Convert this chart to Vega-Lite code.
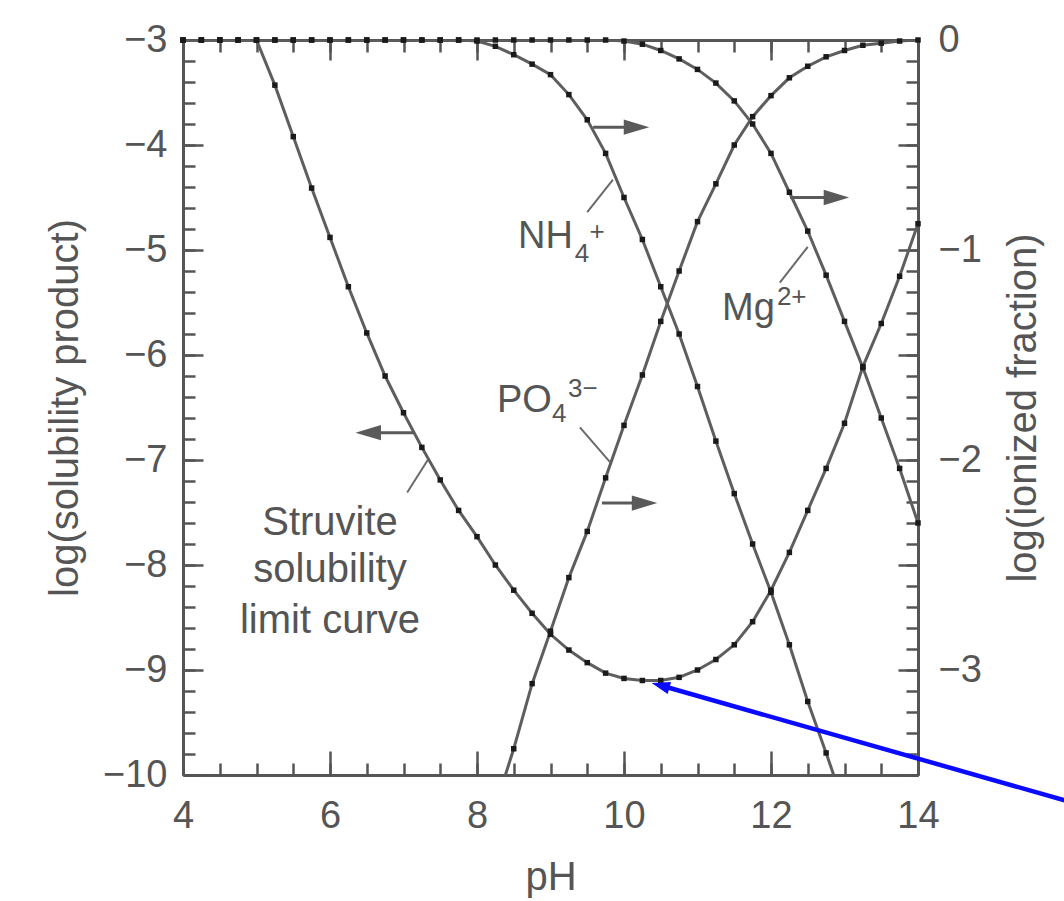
{
  "$schema": "https://vega.github.io/schema/vega-lite/v6.json",
  "width": 735,
  "height": 735,
  "autosize": {"type": "none"},
  "padding": {"left": 183, "top": 40, "right": 146, "bottom": 126},
  "background": "white",
  "config": {
    "font": "Liberation Sans",
    "view": {"stroke": null},
    "axis": {
      "labelFont": "Liberation Sans", "labelFontSize": 38, "labelColor": "#555555",
      "titleFont": "Liberation Sans", "titleFontSize": 40, "titleFontWeight": "normal", "titleColor": "#555555",
      "domainColor": "#555555", "domainWidth": 3, "tickColor": "#555555", "tickWidth": 2.5,
      "grid": false, "labelFlush": false, "labelOverlap": false
    }
  },
  "datasets": {
    "curves": [
      {"pH": 4, "v": -3, "s": "struvite"}, {"pH": 4.25, "v": -3, "s": "struvite"}, {"pH": 4.5, "v": -3, "s": "struvite"}, {"pH": 4.75, "v": -3, "s": "struvite"},
      {"pH": 5, "v": -3.0, "s": "struvite"}, {"pH": 5.25, "v": -3.43, "s": "struvite"}, {"pH": 5.5, "v": -3.92, "s": "struvite"}, {"pH": 5.75, "v": -4.41, "s": "struvite"},
      {"pH": 6, "v": -4.88, "s": "struvite"}, {"pH": 6.25, "v": -5.35, "s": "struvite"}, {"pH": 6.5, "v": -5.79, "s": "struvite"}, {"pH": 6.75, "v": -6.2, "s": "struvite"},
      {"pH": 7, "v": -6.55, "s": "struvite"}, {"pH": 7.25, "v": -6.88, "s": "struvite"}, {"pH": 7.5, "v": -7.19, "s": "struvite"}, {"pH": 7.75, "v": -7.48, "s": "struvite"},
      {"pH": 8, "v": -7.73, "s": "struvite"}, {"pH": 8.25, "v": -8.0, "s": "struvite"}, {"pH": 8.5, "v": -8.24, "s": "struvite"}, {"pH": 8.75, "v": -8.46, "s": "struvite"},
      {"pH": 9, "v": -8.66, "s": "struvite"}, {"pH": 9.25, "v": -8.81, "s": "struvite"}, {"pH": 9.5, "v": -8.93, "s": "struvite"}, {"pH": 9.75, "v": -9.03, "s": "struvite"},
      {"pH": 10, "v": -9.08, "s": "struvite"}, {"pH": 10.25, "v": -9.1, "s": "struvite"}, {"pH": 10.5, "v": -9.1, "s": "struvite"}, {"pH": 10.75, "v": -9.07, "s": "struvite"},
      {"pH": 11, "v": -9.0, "s": "struvite"}, {"pH": 11.25, "v": -8.9, "s": "struvite"}, {"pH": 11.5, "v": -8.76, "s": "struvite"}, {"pH": 11.75, "v": -8.54, "s": "struvite"},
      {"pH": 12, "v": -8.24, "s": "struvite"}, {"pH": 12.25, "v": -7.88, "s": "struvite"}, {"pH": 12.5, "v": -7.48, "s": "struvite"}, {"pH": 12.75, "v": -7.08, "s": "struvite"},
      {"pH": 13, "v": -6.65, "s": "struvite"}, {"pH": 13.25, "v": -6.11, "s": "struvite"}, {"pH": 13.5, "v": -5.7, "s": "struvite"}, {"pH": 13.75, "v": -5.25, "s": "struvite"},
      {"pH": 14, "v": -4.75, "s": "struvite"},

      {"pH": 4, "v": -3, "s": "NH4"}, {"pH": 4.25, "v": -3, "s": "NH4"}, {"pH": 4.5, "v": -3, "s": "NH4"}, {"pH": 4.75, "v": -3, "s": "NH4"},
      {"pH": 5, "v": -3, "s": "NH4"}, {"pH": 5.25, "v": -3, "s": "NH4"}, {"pH": 5.5, "v": -3, "s": "NH4"}, {"pH": 5.75, "v": -3, "s": "NH4"},
      {"pH": 6, "v": -3, "s": "NH4"}, {"pH": 6.25, "v": -3, "s": "NH4"}, {"pH": 6.5, "v": -3, "s": "NH4"}, {"pH": 6.75, "v": -3, "s": "NH4"},
      {"pH": 7, "v": -3, "s": "NH4"}, {"pH": 7.25, "v": -3, "s": "NH4"}, {"pH": 7.5, "v": -3, "s": "NH4"}, {"pH": 7.75, "v": -3, "s": "NH4"},
      {"pH": 8, "v": -3.01, "s": "NH4"}, {"pH": 8.25, "v": -3.06, "s": "NH4"}, {"pH": 8.5, "v": -3.14, "s": "NH4"}, {"pH": 8.75, "v": -3.23, "s": "NH4"},
      {"pH": 9, "v": -3.33, "s": "NH4"}, {"pH": 9.25, "v": -3.52, "s": "NH4"}, {"pH": 9.5, "v": -3.76, "s": "NH4"}, {"pH": 9.75, "v": -4.08, "s": "NH4"},
      {"pH": 10, "v": -4.5, "s": "NH4"}, {"pH": 10.25, "v": -4.9, "s": "NH4"}, {"pH": 10.5, "v": -5.35, "s": "NH4"}, {"pH": 10.75, "v": -5.8, "s": "NH4"},
      {"pH": 11, "v": -6.3, "s": "NH4"}, {"pH": 11.25, "v": -6.82, "s": "NH4"}, {"pH": 11.5, "v": -7.32, "s": "NH4"}, {"pH": 11.75, "v": -7.8, "s": "NH4"},
      {"pH": 12, "v": -8.26, "s": "NH4"}, {"pH": 12.25, "v": -8.76, "s": "NH4"}, {"pH": 12.5, "v": -9.3, "s": "NH4"}, {"pH": 12.75, "v": -9.79, "s": "NH4"},
      {"pH": 13, "v": -10.3, "s": "NH4"},

      {"pH": 4, "v": -3, "s": "Mg"}, {"pH": 4.25, "v": -3, "s": "Mg"}, {"pH": 4.5, "v": -3, "s": "Mg"}, {"pH": 4.75, "v": -3, "s": "Mg"},
      {"pH": 5, "v": -3, "s": "Mg"}, {"pH": 5.25, "v": -3, "s": "Mg"}, {"pH": 5.5, "v": -3, "s": "Mg"}, {"pH": 5.75, "v": -3, "s": "Mg"},
      {"pH": 6, "v": -3, "s": "Mg"}, {"pH": 6.25, "v": -3, "s": "Mg"}, {"pH": 6.5, "v": -3, "s": "Mg"}, {"pH": 6.75, "v": -3, "s": "Mg"},
      {"pH": 7, "v": -3, "s": "Mg"}, {"pH": 7.25, "v": -3, "s": "Mg"}, {"pH": 7.5, "v": -3, "s": "Mg"}, {"pH": 7.75, "v": -3, "s": "Mg"},
      {"pH": 8, "v": -3, "s": "Mg"}, {"pH": 8.25, "v": -3, "s": "Mg"}, {"pH": 8.5, "v": -3, "s": "Mg"}, {"pH": 8.75, "v": -3, "s": "Mg"},
      {"pH": 9, "v": -3, "s": "Mg"}, {"pH": 9.25, "v": -3, "s": "Mg"}, {"pH": 9.5, "v": -3, "s": "Mg"}, {"pH": 9.75, "v": -3, "s": "Mg"},
      {"pH": 10, "v": -3.01, "s": "Mg"}, {"pH": 10.25, "v": -3.04, "s": "Mg"}, {"pH": 10.5, "v": -3.1, "s": "Mg"}, {"pH": 10.75, "v": -3.18, "s": "Mg"},
      {"pH": 11, "v": -3.28, "s": "Mg"}, {"pH": 11.25, "v": -3.41, "s": "Mg"}, {"pH": 11.5, "v": -3.58, "s": "Mg"}, {"pH": 11.75, "v": -3.8, "s": "Mg"},
      {"pH": 12, "v": -4.08, "s": "Mg"}, {"pH": 12.25, "v": -4.45, "s": "Mg"}, {"pH": 12.5, "v": -4.82, "s": "Mg"}, {"pH": 12.75, "v": -5.24, "s": "Mg"},
      {"pH": 13, "v": -5.68, "s": "Mg"}, {"pH": 13.25, "v": -6.12, "s": "Mg"}, {"pH": 13.5, "v": -6.6, "s": "Mg"}, {"pH": 13.75, "v": -7.08, "s": "Mg"},
      {"pH": 14, "v": -7.6, "s": "Mg"},

      {"pH": 8.25, "v": -10.3, "s": "PO4"}, {"pH": 8.5, "v": -9.75, "s": "PO4"}, {"pH": 8.75, "v": -9.13, "s": "PO4"}, {"pH": 9, "v": -8.63, "s": "PO4"},
      {"pH": 9.25, "v": -8.12, "s": "PO4"}, {"pH": 9.5, "v": -7.68, "s": "PO4"}, {"pH": 9.75, "v": -7.17, "s": "PO4"}, {"pH": 10, "v": -6.67, "s": "PO4"},
      {"pH": 10.25, "v": -6.19, "s": "PO4"}, {"pH": 10.5, "v": -5.68, "s": "PO4"}, {"pH": 10.75, "v": -5.2, "s": "PO4"}, {"pH": 11, "v": -4.73, "s": "PO4"},
      {"pH": 11.25, "v": -4.37, "s": "PO4"}, {"pH": 11.5, "v": -4.0, "s": "PO4"}, {"pH": 11.75, "v": -3.73, "s": "PO4"}, {"pH": 12, "v": -3.53, "s": "PO4"},
      {"pH": 12.25, "v": -3.36, "s": "PO4"}, {"pH": 12.5, "v": -3.25, "s": "PO4"}, {"pH": 12.75, "v": -3.16, "s": "PO4"}, {"pH": 13, "v": -3.1, "s": "PO4"},
      {"pH": 13.25, "v": -3.05, "s": "PO4"}, {"pH": 13.5, "v": -3.03, "s": "PO4"}, {"pH": 13.75, "v": -3.01, "s": "PO4"}, {"pH": 14, "v": -3.0, "s": "PO4"}
    ],
    "leaders": [
      {"x1": 7.05, "y1": -7.31, "x2": 7.33, "y2": -7.0},
      {"x1": 9.5, "y1": -4.64, "x2": 9.85, "y2": -4.33},
      {"x1": 12.12, "y1": -5.31, "x2": 12.5, "y2": -4.97},
      {"x1": 9.4, "y1": -6.69, "x2": 9.81, "y2": -7.02}
    ],
    "arrows": [
      {"tail": 7.13, "hx": 6.52, "y": -6.74, "dir": "left"},
      {"tail": 9.58, "hx": 10.17, "y": -3.83, "dir": "right"},
      {"tail": 12.26, "hx": 12.89, "y": -4.5, "dir": "right"},
      {"tail": 9.7, "hx": 10.28, "y": -7.41, "dir": "right"}
    ],
    "ions": [
      {"x": 8.558, "y": -4.981, "t": "NH", "k": "main"},
      {"x": 9.33, "y": -5.114, "t": "4", "k": "small"},
      {"x": 9.53, "y": -4.905, "t": "+", "k": "small"},
      {"x": 11.333, "y": -5.667, "t": "Mg", "k": "main"},
      {"x": 12.08, "y": -5.524, "t": "2+", "k": "small"},
      {"x": 8.272, "y": -6.543, "t": "PO", "k": "main"},
      {"x": 9.02, "y": -6.638, "t": "4", "k": "small"},
      {"x": 9.238, "y": -6.4, "t": "3−", "k": "small"}
    ],
    "struvite": [
      {"x": 6.0, "y": -7.714, "t": "Struvite"},
      {"x": 6.0, "y": -8.162, "t": "solubility"},
      {"x": 6.0, "y": -8.648, "t": "limit curve"}
    ],
    "pointer": [{"x1": 10.54, "y1": -9.155, "x2": 16.2, "y2": -10.282}],
    "pointerHead": [{"x": 10.51, "y": -9.15}]
  },
  "resolve": {"axis": {"x": "independent", "y": "independent"}},
  "layer": [
    {
      "data": {"name": "curves"},
      "mark": {"type": "line", "color": "#5e5e5e", "strokeWidth": 3, "clip": true},
      "encoding": {
        "x": {"field": "pH", "type": "quantitative", "scale": {"domain": [4, 14], "nice": false, "zero": false},
              "axis": {"orient": "bottom", "values": [4, 6, 8, 10, 12, 14], "format": "d", "tickSize": -24, "labelPadding": 46, "title": "pH", "titlePadding": 22}},
        "y": {"field": "v", "type": "quantitative", "scale": {"domain": [-10, -3], "nice": false, "zero": false},
              "axis": {"orient": "left", "values": [-3, -4, -5, -6, -7, -8, -9, -10], "format": "d", "tickSize": -20, "labelPadding": 36, "title": "log(solubility product)", "titlePadding": 17}},
        "detail": {"field": "s"}
      }
    },
    {
      "data": {"name": "curves"},
      "transform": [{"filter": "datum.v >= -10"}],
      "mark": {"type": "point", "shape": "square", "filled": true, "color": "#1a1a1a", "size": 30, "opacity": 1, "clip": false},
      "encoding": {
        "x": {"field": "pH", "type": "quantitative", "scale": {"domain": [4, 14], "nice": false, "zero": false},
              "axis": {"orient": "bottom", "values": [4, 4.5, 5, 5.5, 6, 6.5, 7, 7.5, 8, 8.5, 9, 9.5, 10, 10.5, 11, 11.5, 12, 12.5, 13, 13.5, 14], "tickSize": -12, "labels": false, "domain": false, "title": null}},
        "y": {"field": "v", "type": "quantitative", "scale": {"domain": [-10, -3], "nice": false, "zero": false},
              "axis": {"orient": "left", "values": [-3, -3.2, -3.4, -3.6, -3.8, -4, -4.2, -4.4, -4.6, -4.8, -5, -5.2, -5.4, -5.6, -5.8, -6, -6.2, -6.4, -6.6, -6.8, -7, -7.2, -7.4, -7.6, -7.8, -8, -8.2, -8.4, -8.6, -8.8, -9, -9.2, -9.4, -9.6, -9.8, -10], "tickSize": -12, "labels": false, "domain": false, "title": null}}
      }
    },
    {
      "data": {"name": "leaders"},
      "mark": {"type": "rule", "color": "#6a6a6a", "strokeWidth": 2},
      "encoding": {
        "x": {"field": "x1", "type": "quantitative", "scale": {"domain": [4, 14], "nice": false, "zero": false},
              "axis": {"orient": "top", "values": [4, 6, 8, 10, 12, 14], "tickSize": -20, "labels": false, "title": null}},
        "y": {"field": "y1", "type": "quantitative", "scale": {"domain": [-10, -3], "nice": false, "zero": false},
              "axis": {"orient": "right", "values": [-3, -4, -5, -6, -7, -8, -9, -10], "tickSize": -20, "labelPadding": 40, "labelAlign": "left",
                       "labelExpr": "(datum.value + 3) % 2 == 0 ? format((datum.value + 3) / 2, 'd') : ''",
                       "title": "log(ionized fraction)", "titleAngle": 270, "titleBaseline": "top", "titlePadding": 22}},
        "x2": {"field": "x2"},
        "y2": {"field": "y2"}
      }
    },
    {
      "data": {"name": "arrows"},
      "mark": {"type": "rule", "color": "#5a5a5a", "strokeWidth": 3},
      "encoding": {
        "x": {"field": "tail", "type": "quantitative", "scale": {"domain": [4, 14], "nice": false, "zero": false},
              "axis": {"orient": "top", "values": [4, 4.5, 5, 5.5, 6, 6.5, 7, 7.5, 8, 8.5, 9, 9.5, 10, 10.5, 11, 11.5, 12, 12.5, 13, 13.5, 14], "tickSize": -12, "labels": false, "domain": false, "title": null}},
        "x2": {"field": "hx"},
        "y": {"field": "y", "type": "quantitative", "scale": {"domain": [-10, -3], "nice": false, "zero": false},
              "axis": {"orient": "right", "values": [-3, -3.2, -3.4, -3.6, -3.8, -4, -4.2, -4.4, -4.6, -4.8, -5, -5.2, -5.4, -5.6, -5.8, -6, -6.2, -6.4, -6.6, -6.8, -7, -7.2, -7.4, -7.6, -7.8, -8, -8.2, -8.4, -8.6, -8.8, -9, -9.2, -9.4, -9.6, -9.8, -10], "tickSize": -12, "labels": false, "domain": false, "title": null}}
      }
    },
    {
      "data": {"name": "arrows"},
      "mark": {"type": "point", "filled": true, "color": "#5a5a5a", "opacity": 1, "size": 650},
      "encoding": {
        "x": {"field": "hx", "type": "quantitative", "scale": {"domain": [4, 14], "nice": false, "zero": false}, "axis": null},
        "y": {"field": "y", "type": "quantitative", "scale": {"domain": [-10, -3], "nice": false, "zero": false}, "axis": null},
        "shape": {"field": "dir", "type": "nominal", "legend": null,
                  "scale": {"domain": ["left", "right"], "range": ["M-1,0L1,-0.6L1,0.6Z", "M1,0L-1,-0.6L-1,0.6Z"]}}
      }
    },
    {
      "data": {"name": "ions"},
      "transform": [{"filter": "datum.k == 'main'"}],
      "mark": {"type": "text", "font": "Liberation Sans", "fontSize": 38, "color": "#555555", "align": "left", "baseline": "alphabetic"},
      "encoding": {
        "x": {"field": "x", "type": "quantitative", "scale": {"domain": [4, 14], "nice": false, "zero": false}, "axis": null},
        "y": {"field": "y", "type": "quantitative", "scale": {"domain": [-10, -3], "nice": false, "zero": false}, "axis": null},
        "text": {"field": "t"}
      }
    },
    {
      "data": {"name": "ions"},
      "transform": [{"filter": "datum.k == 'small'"}],
      "mark": {"type": "text", "font": "Liberation Sans", "fontSize": 26, "color": "#555555", "align": "left", "baseline": "alphabetic"},
      "encoding": {
        "x": {"field": "x", "type": "quantitative", "scale": {"domain": [4, 14], "nice": false, "zero": false}, "axis": null},
        "y": {"field": "y", "type": "quantitative", "scale": {"domain": [-10, -3], "nice": false, "zero": false}, "axis": null},
        "text": {"field": "t"}
      }
    },
    {
      "data": {"name": "struvite"},
      "mark": {"type": "text", "font": "Liberation Sans", "fontSize": 40, "color": "#555555", "align": "center", "baseline": "alphabetic"},
      "encoding": {
        "x": {"field": "x", "type": "quantitative", "scale": {"domain": [4, 14], "nice": false, "zero": false}, "axis": null},
        "y": {"field": "y", "type": "quantitative", "scale": {"domain": [-10, -3], "nice": false, "zero": false}, "axis": null},
        "text": {"field": "t"}
      }
    },
    {
      "data": {"name": "pointer"},
      "mark": {"type": "rule", "color": "#0a0aff", "strokeWidth": 4.5, "clip": false},
      "encoding": {
        "x": {"field": "x1", "type": "quantitative", "scale": {"domain": [4, 14], "nice": false, "zero": false}, "axis": null},
        "y": {"field": "y1", "type": "quantitative", "scale": {"domain": [-10, -3], "nice": false, "zero": false}, "axis": null},
        "x2": {"field": "x2"},
        "y2": {"field": "y2"}
      }
    },
    {
      "data": {"name": "pointerHead"},
      "mark": {"type": "point", "filled": true, "color": "#0a0aff", "opacity": 1, "size": 420, "shape": "M0,-1L0.6,0.8L-0.6,0.8Z", "angle": 286, "clip": false},
      "encoding": {
        "x": {"field": "x", "type": "quantitative", "scale": {"domain": [4, 14], "nice": false, "zero": false}, "axis": null},
        "y": {"field": "y", "type": "quantitative", "scale": {"domain": [-10, -3], "nice": false, "zero": false}, "axis": null}
      }
    }
  ]
}
